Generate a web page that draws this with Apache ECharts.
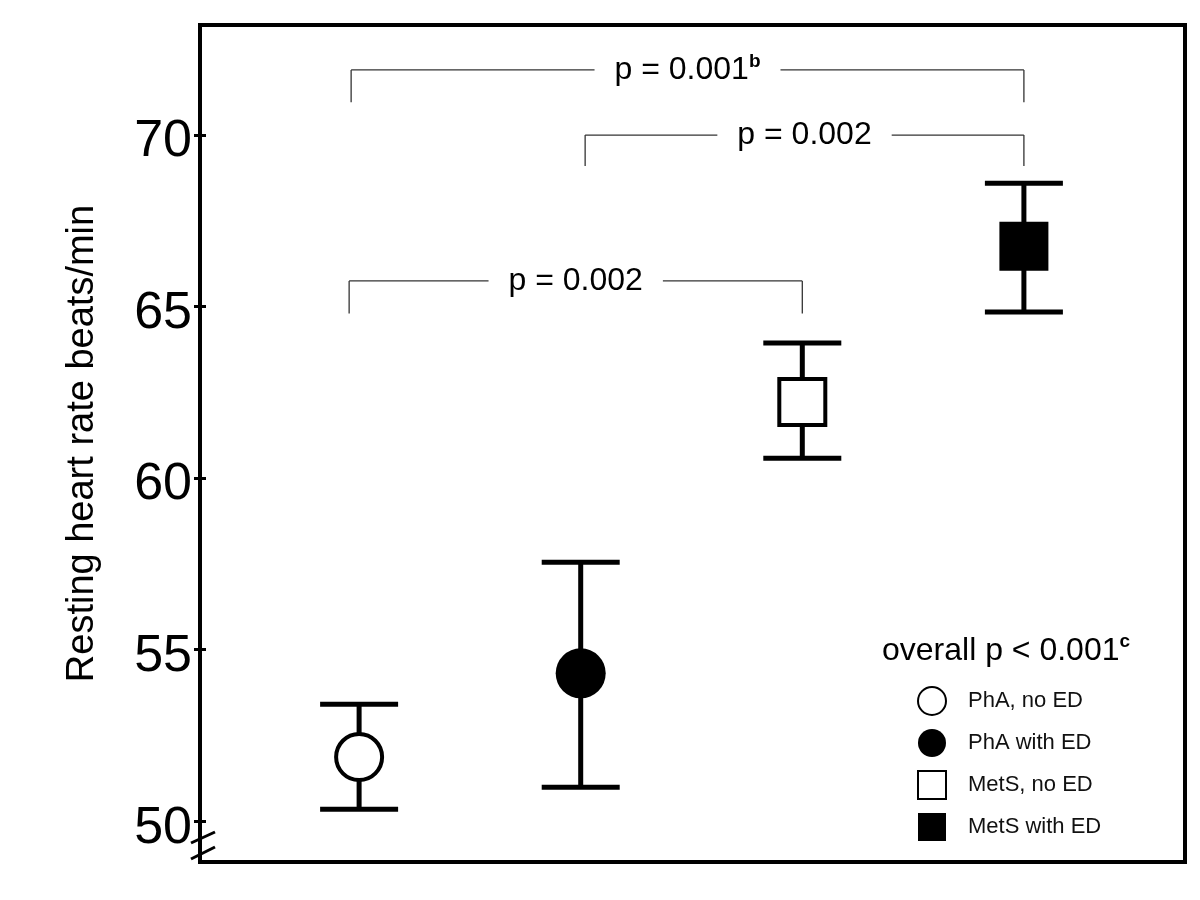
<!DOCTYPE html>
<html>
<head>
<meta charset="utf-8">
<script src="https://cdn.jsdelivr.net/npm/echarts@6/dist/echarts.min.js"></script>
<style>html,body{margin:0;padding:0;background:#fff}#c{width:1200px;height:900px}</style>
</head>
<body>
<div id="c"></div>
<script>
// ---- data ----
const groups = ['PhA, no ED', 'PhA with ED', 'MetS, no ED', 'MetS with ED'];
const groupX = [1, 2, 3, 4];
const means = [51.87, 54.31, 62.22, 66.76];
const lowers = [50.35, 50.99, 60.58, 64.84];
const uppers = [53.41, 57.55, 63.94, 68.60];
const yTicks = [50, 55, 60, 65, 70];
const yName = 'Resting heart rate beats/min';
// brackets: [leftX, rightX, topY, bottomY]
const bracketLeftX = [0.964, 2.02, 0.955];
const bracketRightX = [4, 4, 3];
const bracketTopY = [71.9, 70.0, 65.75];
const bracketBottomY = [70.96, 69.1, 64.8];
const bracketText = ['p = 0.001', 'p = 0.002', 'p = 0.002'];
const bracketSup = ['b', '', ''];
const overallText = 'overall p < 0.001';
const overallSup = 'c';

const FONT = "'Liberation Sans', Arial, Helvetica, sans-serif";
const symbols = ['circle', 'circle', 'rect', 'rect'];
const fills = ['#fff', '#000', '#fff', '#000'];
const sizes = [46, 50, 46, 49];

const cv = document.createElement('canvas').getContext('2d');
function tw(t, size, weight) { cv.font = (weight || 'normal') + ' ' + size + 'px ' + FONT; return cv.measureText(t).width; }

const chart = echarts.init(document.getElementById('c'), null, {renderer: 'canvas'});

const errData = groupX.map((x, i) => [x, lowers[i], uppers[i]]);
const brData = bracketLeftX.map((x, i) => [x, bracketRightX[i], bracketTopY[i], bracketBottomY[i], i]);

const series = [
  {
    type: 'custom', name: 'err', z: 2, silent: true,
    data: errData,
    renderItem: function (params, api) {
      const x = api.value(0);
      const lo = api.coord([x, api.value(1)]);
      const hi = api.coord([x, api.value(2)]);
      const hw = 39;
      const st = {stroke: '#000', lineWidth: 5, lineCap: 'butt'};
      return {type: 'group', children: [
        {type: 'line', shape: {x1: lo[0], y1: lo[1], x2: hi[0], y2: hi[1]}, style: st},
        {type: 'line', shape: {x1: lo[0] - hw, y1: lo[1], x2: lo[0] + hw, y2: lo[1]}, style: st},
        {type: 'line', shape: {x1: hi[0] - hw, y1: hi[1], x2: hi[0] + hw, y2: hi[1]}, style: st}
      ]};
    }
  },
  {
    type: 'custom', name: 'brackets', z: 2, silent: true,
    data: brData,
    renderItem: function (params, api) {
      const i = api.value(4);
      const l = api.coord([api.value(0), api.value(2)]);
      const r = api.coord([api.value(1), api.value(2)]);
      const lb = api.coord([api.value(0), api.value(3)]);
      const rb = api.coord([api.value(1), api.value(3)]);
      const mid = (l[0] + r[0]) / 2;
      const w = tw(bracketText[i], 32) + (bracketSup[i] ? tw(bracketSup[i], 19, 'bold') : 0);
      const gap = w / 2 + 20;
      const st = {stroke: '#333', lineWidth: 1.3};
      const txt = bracketSup[i] ? '{a|' + bracketText[i] + '}{b|' + bracketSup[i] + '}' : '{a|' + bracketText[i] + '}';
      return {type: 'group', children: [
        {type: 'line', shape: {x1: lb[0], y1: lb[1], x2: l[0], y2: l[1]}, style: st},
        {type: 'line', shape: {x1: l[0], y1: l[1], x2: mid - gap, y2: l[1]}, style: st},
        {type: 'line', shape: {x1: mid + gap, y1: r[1], x2: r[0], y2: r[1]}, style: st},
        {type: 'line', shape: {x1: r[0], y1: r[1], x2: rb[0], y2: rb[1]}, style: st},
        {type: 'text', x: mid, y: l[1], style: {
          text: txt, align: 'center', verticalAlign: 'middle',
          rich: {
            a: {fontSize: 32, fontFamily: FONT, fill: '#000', lineHeight: 36},
            b: {fontSize: 19, fontWeight: 'bold', fontFamily: FONT, fill: '#000', lineHeight: 22, verticalAlign: 'top'}
          }
        }}
      ]};
    }
  }
];
groups.forEach((g, i) => {
  series.push({
    type: 'scatter', name: g, z: 5,
    symbol: symbols[i], symbolSize: sizes[i],
    itemStyle: {color: fills[i], borderColor: '#000', borderWidth: i % 2 === 0 ? 4 : 0, opacity: 1},
    emphasis: {disabled: true},
    data: [[groupX[i], means[i]]]
  });
});

const yMin = 48.81, yMax = 73.21;

chart.setOption({
  animation: false,
  backgroundColor: '#fff',
  textStyle: {fontFamily: FONT},
  grid: {left: 200, right: 15, top: 25, bottom: 38, show: true, borderColor: '#000', borderWidth: 4, backgroundColor: 'transparent'},
  xAxis: {type: 'value', min: 0.282, max: 4.727, show: false},
  yAxis: [
    {
      type: 'value', min: yMin, max: yMax, position: 'left',
      axisLine: {show: false},
      splitLine: {show: false},
      axisTick: {show: true, inside: false, length: 6, customValues: yTicks, lineStyle: {color: '#000', width: 3}},
      axisLabel: {
        customValues: yTicks, margin: 8,
        formatter: '{v|{value}}',
        rich: {v: {fontSize: 52, color: '#000', fontFamily: FONT, lineHeight: 58, padding: [14, 0, 0, 0]}}
      },
      name: yName, nameLocation: 'middle', nameRotate: 90, nameGap: 98,
      nameTextStyle: {fontSize: 38, color: '#000', fontFamily: FONT}
    },
    {
      type: 'value', min: yMin, max: yMax, position: 'left',
      axisLine: {show: false},
      splitLine: {show: false},
      axisTick: {show: true, inside: true, length: 6, customValues: yTicks, lineStyle: {color: '#000', width: 3}},
      axisLabel: {show: false}
    }
  ],
  title: {
    left: 882, top: 632, padding: 0,
    text: '{a|' + overallText + '}{b|' + overallSup + '}',
    textStyle: {
      fontWeight: 'normal',
      rich: {
        a: {fontSize: 32, fontWeight: 'normal', fontFamily: FONT, color: '#000', lineHeight: 38},
        b: {fontSize: 19, fontWeight: 'bold', fontFamily: FONT, color: '#000', lineHeight: 24, verticalAlign: 'top'}
      }
    }
  },
  legend: {
    orient: 'vertical', left: 917, top: 686, padding: 0,
    itemWidth: 28, itemHeight: 28, itemGap: 13,
    data: groups,
    selectedMode: false,
    textStyle: {fontSize: 22, color: '#111', fontFamily: FONT, padding: [0, 0, 0, 17]}
  },
  graphic: [
    {type: 'line', shape: {x1: 191, y1: 843, x2: 215, y2: 832}, style: {stroke: '#000', lineWidth: 3}, z: 100},
    {type: 'line', shape: {x1: 191, y1: 859, x2: 215, y2: 847}, style: {stroke: '#000', lineWidth: 3}, z: 100}
  ],
  series: series
});
</script>
</body>
</html>
